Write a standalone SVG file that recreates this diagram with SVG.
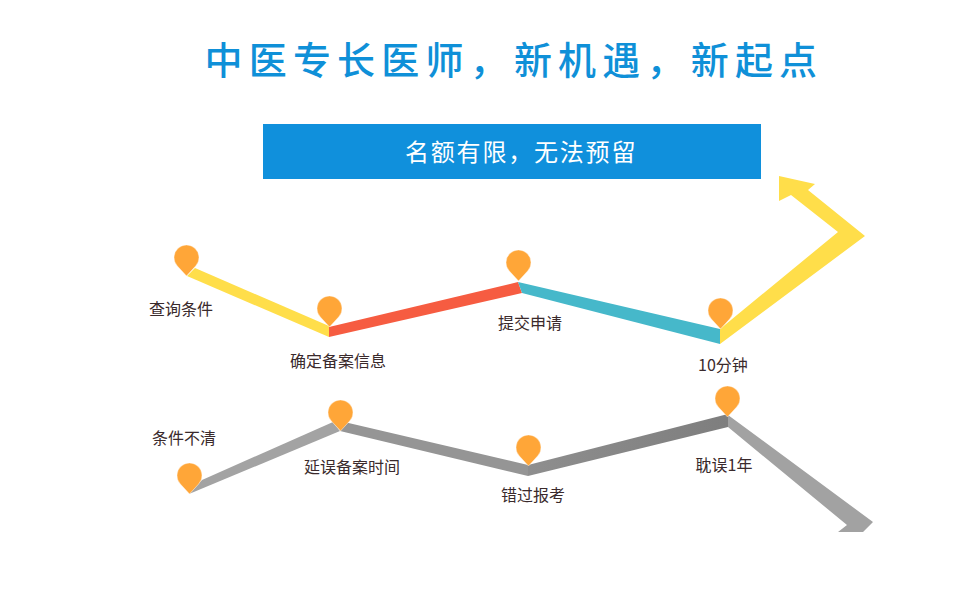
<svg xmlns="http://www.w3.org/2000/svg" width="980" height="595" viewBox="0 0 980 595">
<style>
text{font-family:"Noto Sans CJK SC","Liberation Sans",sans-serif}
.title{font-size:38px;fill:#0f90d8;letter-spacing:6.2px;font-weight:500}
.banner{font-size:24px;fill:#fff;letter-spacing:1.8px}
.lbl{font-size:16px;fill:#3a2a2c;text-anchor:middle}
.pin{fill:#ffa638;stroke:#fff;stroke-opacity:.55;stroke-width:.8}
</style>
<defs>
<path id="pin" class="pin" d="M0,0L-9.2,-10.06A12.5,12.5 0 1 1 9.2,-10.06Z"/>
<linearGradient id="g3" x1="0" y1="0" x2="1" y2="0"><stop offset="0" stop-color="#8e8e8e"/><stop offset="1" stop-color="#7e7e7e"/></linearGradient>
</defs>
<g id="title"><text class="title" x="204.5" y="73.5">中医专长医师，新机遇，新起点</text></g>
<g id="banner"><rect x="263" y="124" width="498" height="55" fill="#1090dc"/><text class="banner" x="405" y="161">名额有限，无法预留</text></g>
<g id="connectors">
<polygon fill="#ffde4a" points="187,276 195,268 329,326 329,337"/>
<polygon fill="#f65c41" points="329,327 518,282 522,293 329,337"/>
<polygon fill="#46b8ca" points="518,282 720,329 720,344 522,293"/>
<polygon fill="#ffde4a" points="720,329 838,232 791,195 779,201 779,176 815,184 808,190 865,236 720,344"/>
<polygon fill="#a3a3a3" points="189,494 202,480 333,422 340,431"/>
<polygon fill="#959595" points="340,421 528,465 528,476 340,431"/>
<polygon fill="url(#g3)" points="528,465 728,414 728,427 528,476"/>
<polygon fill="#a2a2a2" points="728,415 873,522 863,532 838,532 847,525 728,427"/>
</g>
<g id="node-1"><use href="#pin" x="186.5" y="276"/><text class="lbl" x="181" y="315">查询条件</text></g>
<g id="node-2"><use href="#pin" x="329.5" y="327"/><text class="lbl" x="338" y="367">确定备案信息</text></g>
<g id="node-3"><use href="#pin" x="518.5" y="281"/><text class="lbl" x="530" y="329">提交申请</text></g>
<g id="node-4"><use href="#pin" x="720.5" y="329"/><text class="lbl" x="723" y="371">10分钟</text></g>
<g id="node-5"><use href="#pin" x="189.5" y="494"/><text class="lbl" x="184" y="444">条件不清</text></g>
<g id="node-6"><use href="#pin" x="340.5" y="431"/><text class="lbl" x="352" y="473">延误备案时间</text></g>
<g id="node-7"><use href="#pin" x="528.5" y="466"/><text class="lbl" x="533" y="501">错过报考</text></g>
<g id="node-8"><use href="#pin" x="727.5" y="417"/><text class="lbl" x="724" y="471">耽误1年</text></g>
</svg>
